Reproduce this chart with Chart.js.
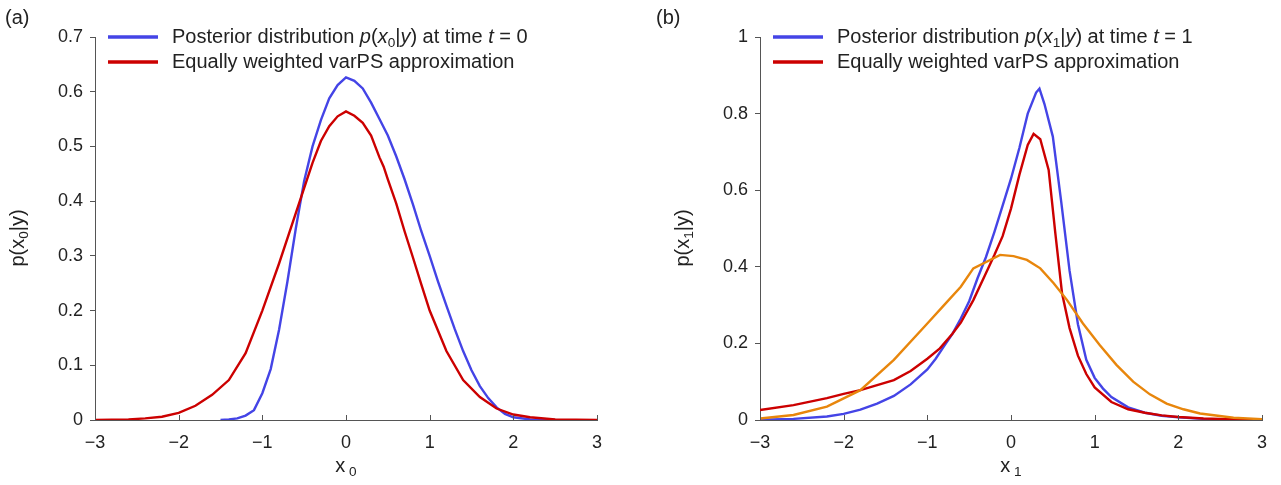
<!DOCTYPE html>
<html>
<head>
<meta charset="utf-8">
<script src="https://cdn.jsdelivr.net/npm/chart.js@4/dist/chart.umd.min.js"></script>
<style>
  body { margin: 0; background: #fff; }
  #wrap { position: relative; width: 1281px; height: 485px; }
  canvas { position: absolute; top: 0; }
</style>
</head>
<body>
<div id="wrap">
  <canvas id="chartA" width="640" height="485" style="left:0"></canvas>
  <canvas id="chartB" width="641" height="485" style="left:640px"></canvas>
</div>
<script>
// panel (a): t = 0
const x0Blue = [-1.5,-1.4,-1.3,-1.2,-1.1,-1.0,-0.9,-0.8,-0.7,-0.6,-0.5,-0.4,-0.3,-0.2,-0.1,0,0.1,0.2,0.3,0.4,0.5,0.6,0.7,0.8,0.9,1.0,1.1,1.2,1.3,1.4,1.5,1.6,1.7,1.8,1.9,2.0,2.2,2.5];
const p0Blue = [0,0.001,0.003,0.008,0.018,0.049,0.093,0.165,0.253,0.350,0.437,0.500,0.548,0.588,0.612,0.626,0.620,0.606,0.580,0.550,0.520,0.482,0.440,0.394,0.345,0.300,0.253,0.209,0.166,0.126,0.091,0.062,0.040,0.023,0.011,0.005,0.001,0];
const x0Red = [-3,-2.8,-2.6,-2.4,-2.2,-2.0,-1.8,-1.6,-1.4,-1.2,-1.0,-0.8,-0.6,-0.4,-0.3,-0.2,-0.1,0,0.1,0.2,0.3,0.4,0.45,0.5,0.6,0.7,0.8,0.9,1.0,1.2,1.4,1.6,1.8,2.0,2.2,2.5,3.0];
const p0Red = [0,0.0005,0.001,0.003,0.006,0.013,0.026,0.046,0.073,0.122,0.200,0.286,0.378,0.470,0.510,0.537,0.555,0.564,0.556,0.543,0.520,0.480,0.463,0.440,0.396,0.345,0.297,0.248,0.200,0.126,0.073,0.042,0.021,0.010,0.005,0.001,0];

// panel (b): t = 1
const x1Blue = [-3,-2.6,-2.2,-2.0,-1.8,-1.6,-1.4,-1.2,-1.0,-0.9,-0.8,-0.7,-0.6,-0.5,-0.4,-0.3,-0.2,-0.1,0,0.1,0.2,0.3,0.34,0.4,0.5,0.6,0.7,0.8,0.9,1.0,1.1,1.2,1.4,1.6,1.8,2.0,2.3,2.6,3.0];
const p1Blue = [0.001,0.003,0.009,0.016,0.027,0.043,0.063,0.093,0.132,0.160,0.193,0.225,0.265,0.310,0.370,0.425,0.490,0.560,0.630,0.710,0.800,0.855,0.865,0.825,0.740,0.570,0.390,0.250,0.157,0.110,0.082,0.060,0.033,0.019,0.011,0.007,0.003,0.001,0];
const x1Red = [-3,-2.6,-2.2,-2.0,-1.8,-1.4,-1.2,-1.0,-0.85,-0.7,-0.6,-0.45,-0.3,-0.2,-0.1,0,0.1,0.2,0.27,0.35,0.45,0.53,0.61,0.7,0.8,0.9,1.0,1.2,1.4,1.6,1.8,2.0,2.3,2.6,3.0];
const p1Red = [0.026,0.039,0.057,0.068,0.078,0.104,0.128,0.160,0.187,0.225,0.254,0.313,0.383,0.430,0.480,0.552,0.640,0.718,0.747,0.733,0.653,0.487,0.331,0.240,0.168,0.120,0.085,0.047,0.028,0.019,0.012,0.008,0.004,0.002,0.001];
const x1Orange = [-3,-2.6,-2.2,-1.8,-1.4,-1.0,-0.8,-0.6,-0.45,-0.13,0.03,0.19,0.35,0.51,0.67,0.86,1.06,1.26,1.46,1.66,1.86,2.06,2.26,2.66,3.0];
const p1Orange = [0.004,0.013,0.035,0.078,0.157,0.252,0.300,0.348,0.396,0.431,0.428,0.418,0.396,0.357,0.313,0.252,0.196,0.144,0.100,0.067,0.043,0.028,0.017,0.006,0.002];

const xTicks = [-3,-2,-1,0,1,2,3];
const legendA = ['Posterior distribution', 'Equally weighted varPS approximation'];

const BLUE = '#4444e6';
const RED = '#cc0000';
const ORANGE = '#e8860c';
const AXIS = '#555555';
const TEXT = '#222222';
const FONT = '"Liberation Sans", Arial, sans-serif';
const FS = 18;
const LFS = 20;

const pts = (xs, ys) => xs.map((x, i) => ({x: x, y: ys[i]}));
const minus = v => String(Math.round(v * 10) / 10).replace('-', '\u2212');

// draws a row of text pieces, some italic / subscript
function runs(ctx, x, y, parts, size) {
    parts.forEach(p => {
        const s = p.sub ? size * 0.68 : size;
        ctx.font = (p.it ? 'italic ' : '') + s + 'px ' + FONT;
        ctx.fillText(p.t, x, y + (p.sub ? size * 0.32 : 0));
        x += ctx.measureText(p.t).width;
    });
    return x;
}
function runsWidth(ctx, parts, size) {
    let w = 0;
    parts.forEach(p => {
        const s = p.sub ? size * 0.68 : size;
        ctx.font = (p.it ? 'italic ' : '') + s + 'px ' + FONT;
        w += ctx.measureText(p.t).width;
    });
    return w;
}

const decor = {
    id: 'decor',
    afterDraw(chart, args, o) {
        const ctx = chart.ctx;
        const a = chart.chartArea;
        const xs = chart.scales.x;
        ctx.save();
        // inward x ticks
        ctx.strokeStyle = AXIS;
        ctx.lineWidth = 1;
        xTicks.forEach(v => {
            const px = Math.round(xs.getPixelForValue(v)) + 0.5;
            ctx.beginPath();
            ctx.moveTo(px, a.bottom);
            ctx.lineTo(px, a.bottom - 5);
            ctx.stroke();
        });
        ctx.fillStyle = TEXT;
        ctx.textBaseline = 'middle';
        ctx.textAlign = 'left';
        // panel letter
        ctx.font = '20px ' + FONT;
        ctx.fillText(o.panel, o.panelX, 18);
        // legend
        const sub = o.sub;
        const rows = [
            {c: BLUE, parts: [{t: legendA[0] + ' '}, {t: 'p', it: true}, {t: '('}, {t: 'x', it: true}, {t: sub, sub: true}, {t: '|'}, {t: 'y', it: true}, {t: ') at time '}, {t: 't', it: true}, {t: ' = ' + sub}]},
            {c: RED, parts: [{t: legendA[1]}]}
        ];
        rows.forEach((r, i) => {
            const y = a.top + i * 25;
            ctx.strokeStyle = r.c;
            ctx.lineWidth = 3.5;
            ctx.beginPath();
            ctx.moveTo(a.left + 13, y);
            ctx.lineTo(a.left + 63, y);
            ctx.stroke();
            runs(ctx, a.left + 77, y, r.parts, LFS);
        });
        // x axis title
        const xt = [{t: 'x'}, {t: ' ' + sub, sub: true}];
        const xw = runsWidth(ctx, xt, LFS);
        runs(ctx, (a.left + a.right) / 2 - xw / 2, 466, xt, LFS);
        // y axis title (rotated)
        const yt = [{t: 'p(x'}, {t: sub, sub: true}, {t: '|y)'}];
        const yw = runsWidth(ctx, yt, LFS);
        ctx.translate(a.left - 77, 238);
        ctx.rotate(-Math.PI / 2);
        runs(ctx, -yw / 2, 0, yt, LFS);
        ctx.restore();
    }
};

function makeChart(id, datasets, yMax, yStep, leftW, rightPad, opts) {
    return new Chart(document.getElementById(id), {
        type: 'line',
        data: {datasets: datasets},
        plugins: [decor],
        options: {
            responsive: false,
            animation: false,
            layout: {padding: {top: 37, right: rightPad, left: 0, bottom: 0}},
            plugins: {legend: {display: false}, tooltip: {enabled: false}, decor: opts},
            elements: {point: {radius: 0}, line: {tension: 0, borderWidth: 2.4}},
            scales: {
                x: {
                    type: 'linear', min: -3, max: 3,
                    afterFit: s => { s.height = 65; s.paddingLeft = 0; s.paddingRight = 0; },
                    afterBuildTicks: s => { s.ticks = xTicks.map(v => ({value: v})); },
                    grid: {display: false},
                    border: {display: true, color: AXIS, width: 1},
                    ticks: {color: TEXT, font: {family: FONT, size: FS}, padding: 4, maxRotation: 0, callback: minus}
                },
                y: {
                    min: 0, max: yMax,
                    afterFit: s => { s.width = leftW; s.paddingTop = 0; s.paddingBottom = 0; },
                    ticks: {stepSize: yStep, color: TEXT, font: {family: FONT, size: FS}, padding: 7, callback: minus},
                    grid: {drawOnChartArea: false, drawTicks: true, tickLength: 5, color: AXIS},
                    border: {display: true, color: AXIS, width: 1}
                }
            }
        }
    });
}

makeChart('chartA', [
    {data: pts(x0Red, p0Red), borderColor: RED, order: 1},
    {data: pts(x0Blue, p0Blue), borderColor: BLUE, order: 2}
], 0.7, 0.1, 95, 43, {panel: '(a)', panelX: 5, sub: '0'});

makeChart('chartB', [
    {data: pts(x1Orange, p1Orange), borderColor: ORANGE, order: 1},
    {data: pts(x1Red, p1Red), borderColor: RED, order: 2},
    {data: pts(x1Blue, p1Blue), borderColor: BLUE, order: 3}
], 1, 0.2, 120, 19, {panel: '(b)', panelX: 16, sub: '1'});
</script>
</body>
</html>
